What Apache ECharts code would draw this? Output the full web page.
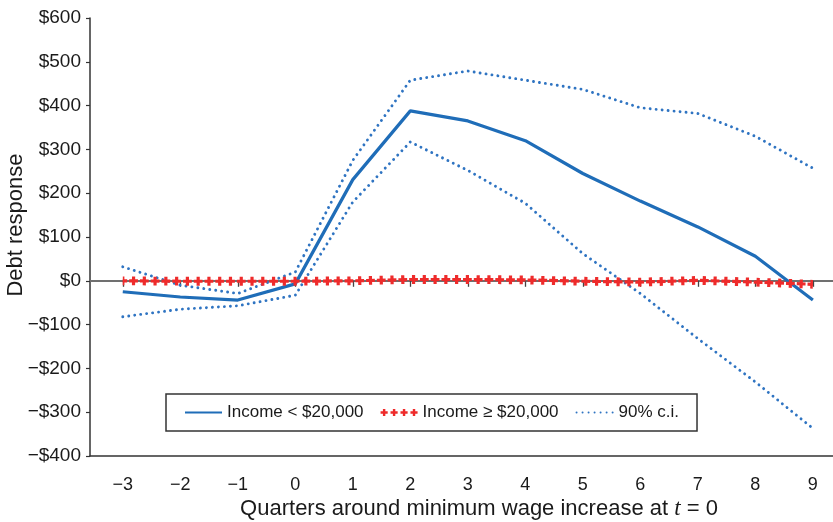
<!DOCTYPE html>
<html>
<head>
<meta charset="utf-8">
<script src="https://cdn.jsdelivr.net/npm/echarts@6/dist/echarts.min.js"></script>
<style>
  html, body { margin: 0; padding: 0; background: #fff; }
  #chart { width: 833px; height: 522px; }
</style>
</head>
<body>
<div id="chart"></div>
<script>
// ---- data ----
var quarters = [-3, -2, -1, 0, 1, 2, 3, 4, 5, 6, 7, 8, 9];
var incomeLow = [-25, -37, -44, -7, 231, 388, 365, 320, 245, 182, 123, 56, -44];
var incomeHigh = [0, -1, -1, -1, 0, 3, 3, 2, -1, -3, 1, -3, -8];
var ciUpper = [32, -10, -29, 20, 275, 458, 479, 458, 437, 395, 382, 330, 257];
var ciLower = [-82, -65, -57, -33, 180, 317, 252, 177, 62, -29, -132, -231, -337];
var yTicks = { min: -400, max: 600, step: 100 };
var names = ['Income < $20,000', 'Income \u2265 $20,000', '90% c.i.'];

function pairs(vals) { return quarters.map(function (q, i) { return [q, vals[i]]; }); }
function minus(s) { return String(s).replace('-', '\u2212'); }

// legend icon: four plus signs
var plusPath = 'path://';
[3.5, 13.3, 23.1, 32.9].forEach(function (c) {
  var a = c - 1.2, b = c + 1.2, l = c - 3.5, r = c + 3.5;
  plusPath += 'M' + a + ',0L' + b + ',0L' + b + ',2.3L' + r + ',2.3L' + r + ',4.7L' + b + ',4.7L' + b + ',7L' + a + ',7L' + a + ',4.7L' + l + ',4.7L' + l + ',2.3L' + a + ',2.3Z';
});

var FONT = 'Liberation Sans';
var BLUE = '#1f6db8', BLUE_DOT = '#2f74c2', RED = '#ee2b2b', INK = '#1a1a1a';

var chart = echarts.init(document.getElementById('chart'), null, { renderer: 'canvas' });
chart.setOption({
  animation: false,
  backgroundColor: '#fff',
  textStyle: { fontFamily: FONT },
  grid: { left: 90, right: 0, top: 18, bottom: 66, containLabel: false },
  xAxis: [{
    type: 'value', min: -3.57, max: 9.35, minInterval: 1, maxInterval: 1,
    position: 'bottom',
    axisLine: { show: true, onZero: false, lineStyle: { color: '#333', width: 1.5 } },
    axisTick: { show: false },
    splitLine: { show: false },
    axisLabel: {
      customValues: quarters, margin: 20, fontSize: 18, color: INK, fontFamily: FONT,
      formatter: function (v) { return minus(v); }
    }
  }, {
    type: 'value', min: -3.57, max: 9.35, minInterval: 1, maxInterval: 1,
    position: 'top',
    axisLine: { show: true, onZero: true, lineStyle: { color: '#707070', width: 1.8 } },
    axisTick: { show: true, inside: true, length: 6, customValues: quarters, lineStyle: { color: '#444', width: 1.3 } },
    axisLabel: { show: false },
    splitLine: { show: false }
  }],
  yAxis: {
    type: 'value', min: yTicks.min, max: yTicks.max, interval: yTicks.step,
    axisLine: { show: true, onZero: false, lineStyle: { color: '#333', width: 1.5 } },
    axisTick: { show: true, length: 4, lineStyle: { color: '#333', width: 1.2 } },
    splitLine: { show: false },
    axisLabel: {
      margin: 9, fontSize: 19, color: INK, fontFamily: FONT,
      formatter: function (v) { return v < 0 ? '\u2212$' + (-v) : '$' + v; }
    }
  },
  legend: {
    left: 166, top: 394, orient: 'horizontal',
    padding: [10, 18], itemWidth: 37, itemHeight: 8, itemGap: 17,
    borderColor: '#333', borderWidth: 1.5, backgroundColor: '#fff',
    textStyle: { fontSize: 17, color: INK, fontFamily: FONT, lineHeight: 17 },
    data: [
      { name: names[0], itemStyle: { opacity: 0 } },
      { name: names[1], icon: plusPath },
      { name: names[2], itemStyle: { opacity: 0 } }
    ]
  },
  series: [{
    name: names[2], type: 'line', data: pairs(ciUpper), symbol: 'none', z: 3,
    itemStyle: { color: BLUE_DOT },
    lineStyle: { color: BLUE_DOT, width: 2.9, type: [0.01, 6], cap: 'round' }
  }, {
    name: names[2], type: 'line', data: pairs(ciLower), symbol: 'none', z: 3,
    itemStyle: { color: BLUE_DOT },
    lineStyle: { color: BLUE_DOT, width: 2.9, type: [0.01, 6], cap: 'round' }
  }, {
    name: names[0], type: 'line', data: pairs(incomeLow), symbol: 'none', z: 4,
    itemStyle: { color: BLUE },
    lineStyle: { color: BLUE, width: 3.2 }
  }, {
    name: names[1], type: 'line', data: pairs(incomeHigh), symbol: 'none', z: 5,
    itemStyle: { color: RED },
    lineStyle: { color: RED, width: 3.2, type: [8.8, 1.97], dashOffset: 4.4, cap: 'butt' }
  }, {
    name: names[1], type: 'line', data: pairs(incomeHigh), symbol: 'none', z: 5,
    itemStyle: { color: RED },
    lineStyle: { color: RED, width: 8.8, type: [3.2, 7.57], dashOffset: 1.6, cap: 'butt' }
  }],
  graphic: [{
    type: 'text', x: 16, y: 225, rotation: Math.PI / 2,
    style: { text: 'Debt response', fontSize: 22, fontFamily: FONT, fill: INK, align: 'center', verticalAlign: 'middle' }
  }, {
    type: 'text', x: 479, y: 509,
    style: {
      text: '{a|Quarters around minimum wage increase at }{i|t}{a| = 0}',
      align: 'center', verticalAlign: 'middle', fill: INK,
      rich: {
        a: { fontSize: 22, fontFamily: FONT, fill: INK },
        i: { fontSize: 23, fontFamily: 'Liberation Serif', fontStyle: 'italic', fill: INK }
      }
    }
  }]
});
</script>
</body>
</html>
